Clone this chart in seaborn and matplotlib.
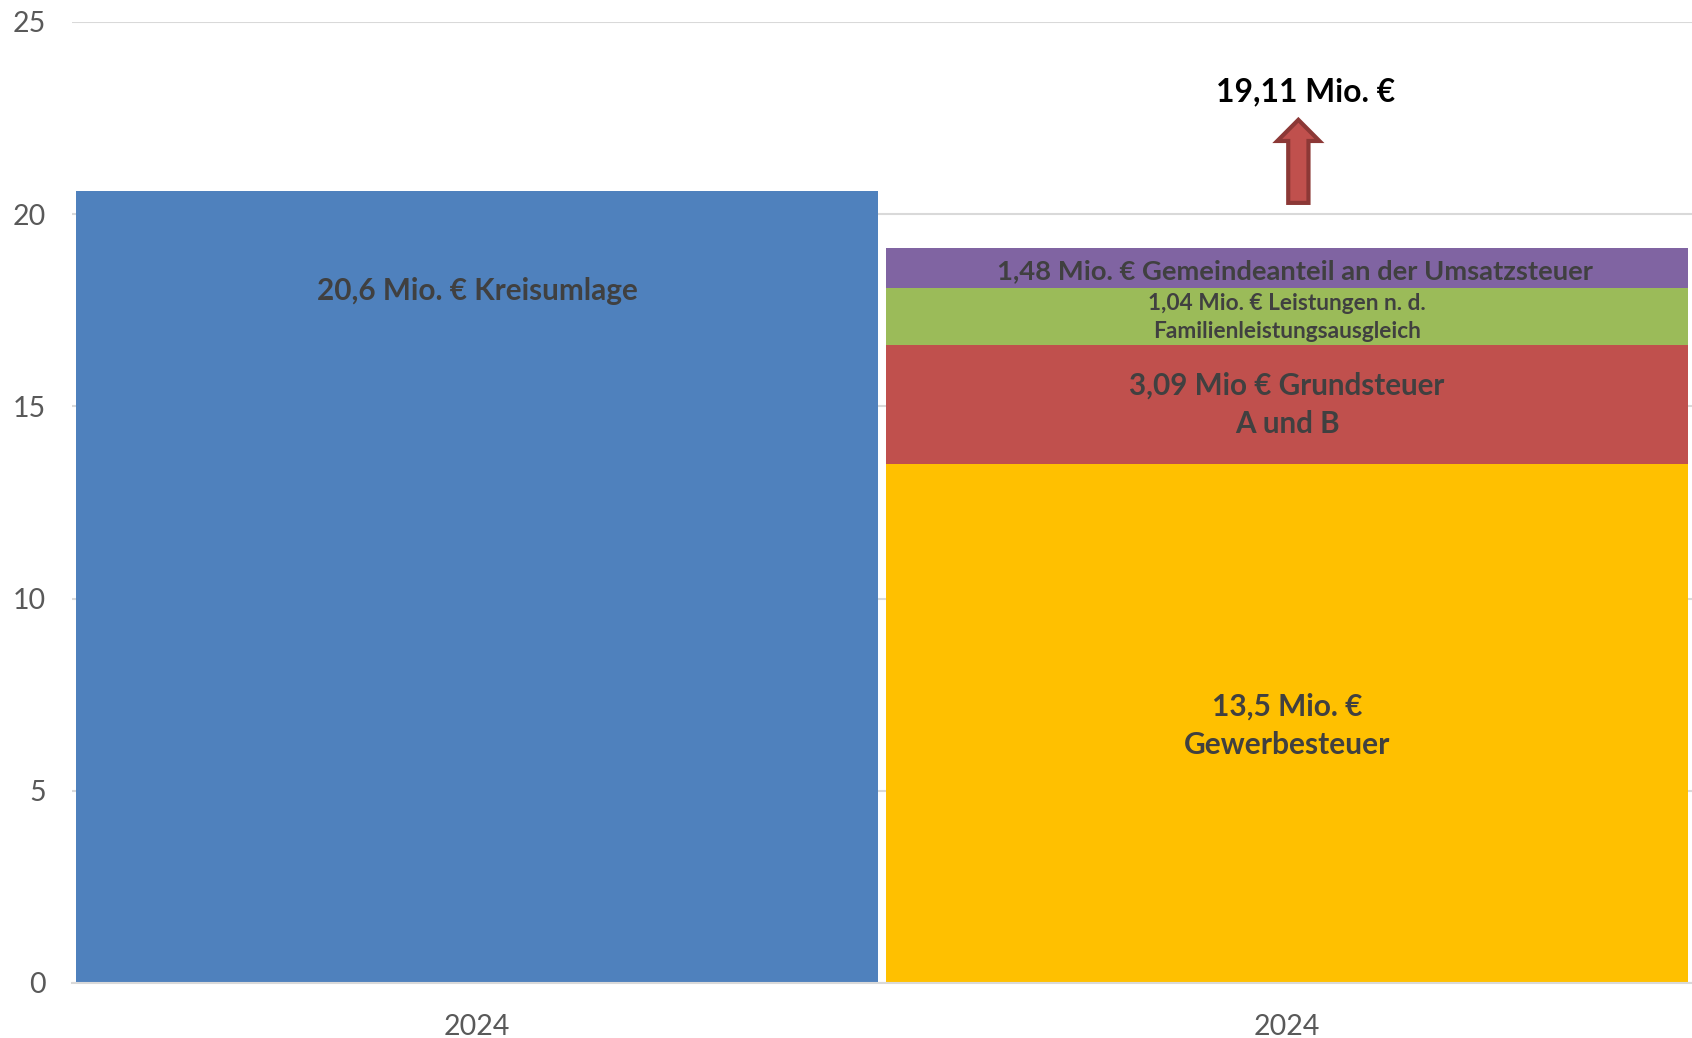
import matplotlib
matplotlib.use("Agg")
import matplotlib.pyplot as plt
import matplotlib.patches as mpatches
import seaborn as sns
import pandas as pd

# data
categories = ["Kreisumlage", "Einnahmen"]
tick_labels = ["2024", "2024"]
kreisumlage = 20.6
layer_names = ["Gewerbesteuer", "Grundsteuer", "Familienleistungsausgleich", "Umsatzsteuer"]
layer_values = [13.5, 3.09, 1.48, 1.04]
layer_colors = ["#ffc000", "#c0504d", "#9bbb59", "#8064a2"]
layer_labels = [
    "13,5 Mio. €\nGewerbesteuer",
    "3,09 Mio € Grundsteuer\nA und B",
    "1,04 Mio. € Leistungen n. d.\nFamilienleistungsausgleich",
    "1,48 Mio. € Gemeindeanteil an der Umsatzsteuer",
]
total_label = "19,11 Mio. €"

sns.set_style("whitegrid")
plt.rcParams["font.family"] = ["Lato", "DejaVu Sans"]

fig = plt.figure(figsize=(16.92, 10.38), dpi=100)
ax = fig.add_axes([0.0426, 0.053, 0.9574, 0.926])

bar_w = 0.99
sns.barplot(x=[categories[0]], y=[kreisumlage], order=categories, color="#4f81bd",
            saturation=1, width=bar_w, linewidth=0, ax=ax, zorder=2)

# stacked bar: draw cumulative totals from the top down
cum = pd.Series(layer_values).cumsum().tolist()
for top, col in reversed(list(zip(cum, layer_colors))):
    sns.barplot(x=[categories[1]], y=[top], order=categories, color=col,
                saturation=1, width=bar_w, linewidth=0, ax=ax, zorder=2)

ax.set_ylim(0, 25)
ax.set_xlim(-0.5, 1.5)
ax.set_yticks(range(0, 26, 5))
ax.set_xticks([0, 1])
ax.set_xticklabels(tick_labels)
ax.set_xlabel("")
ax.set_ylabel("")
ax.grid(axis="y", color="#d9d9d9", linewidth=1.5, zorder=0)
ax.grid(axis="x", visible=False)
for s in ["left", "right", "top"]:
    ax.spines[s].set_visible(False)
ax.spines["bottom"].set_color("#d9d9d9")
ax.spines["bottom"].set_linewidth(1.5)
ax.tick_params(axis="both", length=0, labelsize=20.5, labelcolor="#595959")
ax.tick_params(axis="y", pad=19)
ax.tick_params(axis="x", pad=22)

txt = dict(ha="center", va="center", color="#404040", fontweight="bold", zorder=5)
ax.text(0, 18.0, "20,6 Mio. € Kreisumlage", fontsize=21.4, **txt)

label_y = [6.70, 15.03, 17.31, 18.52]
label_size = [21.5, 21.3, 16.3, 19.7]
label_x = [1.0, 1.0, 1.0, 1.01]
for x, y, lab, fs in zip(label_x, label_y, layer_labels, label_size):
    ax.text(x, y, lab, fontsize=fs, linespacing=1.45, **txt)

# arrow and total
arrow = mpatches.FancyArrow(1.014, 20.29, 0, 2.16, width=0.025, head_width=0.052,
                            head_length=0.55, length_includes_head=True,
                            facecolor="#c0504d", edgecolor="#8c3836", linewidth=3, zorder=4)
ax.add_patch(arrow)
ax.text(1.023, 23.18, total_label, ha="center", va="center", fontsize=22.9,
        fontweight="bold", color="black")

fig.savefig("out.png", dpi=100)
